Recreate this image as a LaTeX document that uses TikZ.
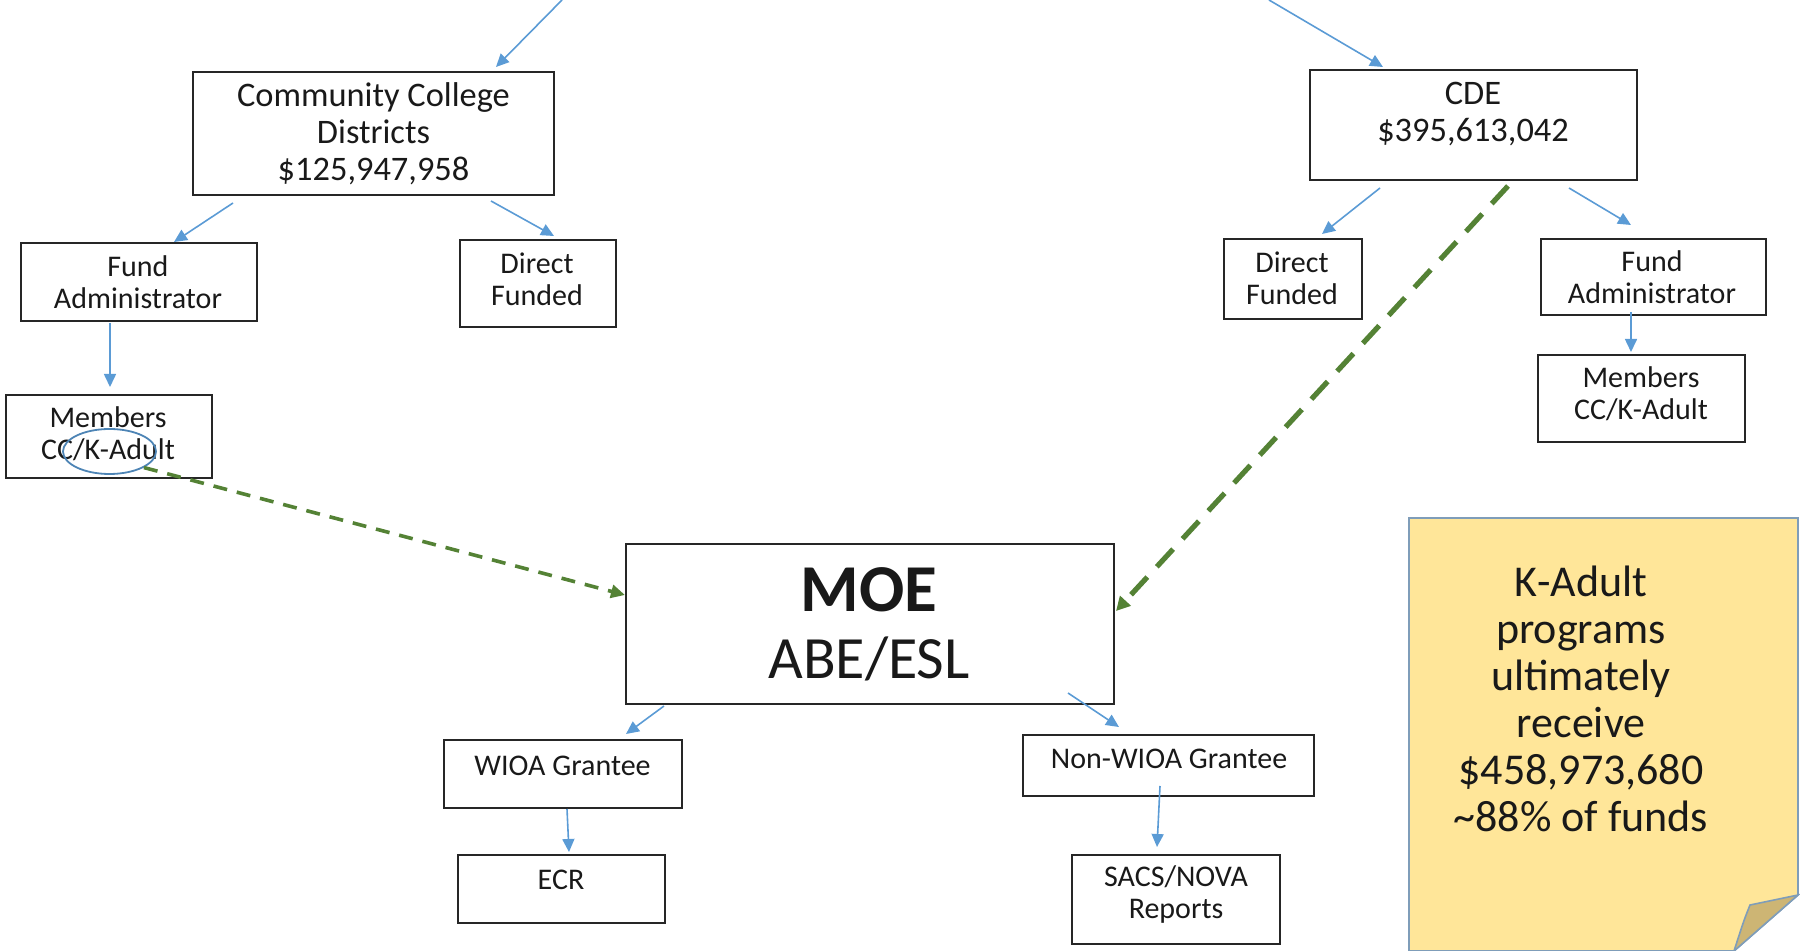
\documentclass[tikz,border=0pt]{standalone}
\usepackage{fontspec}
\setmainfont{Carlito}
\usetikzlibrary{arrows.meta,shapes.geometric}
\definecolor{arrblue}{HTML}{5B9BD5}
\definecolor{dgreen}{HTML}{548235}
\definecolor{notefill}{HTML}{FFE699}
\definecolor{noteedge}{HTML}{7F9DB9}
\definecolor{foldfill}{HTML}{CDB574}
\tikzset{
  box/.style={draw=black!85, line width=1pt, inner sep=0pt, outer sep=0pt},
  txt/.style={align=center, inner sep=0pt, text=black!90},
  small/.style={font=\fontsize{15}{16}\selectfont},
  mid/.style={font=\fontsize{17.2}{18.5}\selectfont},
  arr/.style={draw=arrblue, line width=0.8pt, -{Triangle[length=6.5pt,width=6pt]}},
  garrthick/.style={draw=dgreen, line width=2.6pt, dash pattern=on 12pt off 7pt, -{Triangle[length=7pt,width=7pt]}},
  garrthin/.style={draw=dgreen, line width=1.8pt, dash pattern=on 7pt off 5pt, -{Triangle[length=7pt,width=6.5pt]}}
}
\begin{document}
\begin{tikzpicture}[x=0.5pt,y=-0.5pt]
\useasboundingbox (0,0) rectangle (1800,951);
% boxes
\node[box, minimum width=180.5pt, minimum height=61.5pt] (ccd) at (373.5,133.5) {};
\node[box, minimum width=163.5pt, minimum height=55pt] (cde) at (1473.5,125) {};
\node[box, minimum width=118pt, minimum height=39pt] (faL) at (139,282) {};
\node[box, minimum width=78pt, minimum height=43.5pt] (dfL) at (538,283.5) {};
\node[box, minimum width=103pt, minimum height=41.5pt] (memL) at (109,436.5) {};
\node[box, minimum width=69pt, minimum height=40pt] (dfR) at (1293,279) {};
\node[box, minimum width=112.5pt, minimum height=38pt] (faR) at (1653.5,277) {};
\node[box, minimum width=103.5pt, minimum height=43.5pt] (memR) at (1641.5,398.5) {};
\node[box, minimum width=244pt, minimum height=80pt] (moe) at (870,624) {};
\node[box, minimum width=119pt, minimum height=34pt] (wioa) at (563,774) {};
\node[box, minimum width=103.5pt, minimum height=34pt] (ecr) at (561.5,889) {};
\node[box, minimum width=145.5pt, minimum height=30.5pt] (nwioa) at (1168.5,765.5) {};
\node[box, minimum width=104pt, minimum height=44.5pt] (sacs) at (1176,899.5) {};
% texts
\node[txt, mid] (ccdT) at (373.5,134) {Community College\\Districts\\\$125,947,958};
\node[txt, mid] (cdeT) at (1473,114) {CDE\\\$395,613,042};
\node[txt, small] (faLT) at (138,282) {Fund\\Administrator};
\node[txt, small] (dfLT) at (537,279.5) {Direct\\Funded};
\node[txt, small] (memLT) at (108,434) {Members\\CC/K-Adult};
\node[txt, small] (dfRT) at (1292,278.5) {Direct\\Funded};
\node[txt, small] (faRT) at (1652,277.5) {Fund\\Administrator};
\node[txt, small] (memRT) at (1641,394) {Members\\CC/K-Adult};
\node[txt, font=\fontsize{33.5}{36}\selectfont\bfseries] (moeT) at (869,590) {MOE};
\node[txt, font=\fontsize{30}{34}\selectfont] (abeT) at (869,659) {ABE/ESL};
\node[txt, small] (wioaT) at (562.5,766) {WIOA Grantee};
\node[txt, small] (ecrT) at (561,880) {ECR};
\node[txt, small] (nwioaT) at (1169,759) {Non-WIOA Grantee};
\node[txt, small] (sacsT) at (1176,895) {SACS/NOVA\\Reports};
% sticky note
\filldraw[fill=notefill, draw=noteedge, line width=0.8pt]
  (1409,518) -- (1798,518) -- (1798,895) -- (1734,951) -- (1409,951) -- cycle;
\filldraw[fill=foldfill, draw=noteedge, line width=0.8pt]
  (1798,895) -- (1750,905) .. controls (1744,920) .. (1734,951) -- cycle;
\node[txt, font=\fontsize{22}{23.5}\selectfont] (noteT) at (1581,699)
  {K-Adult\\programs\\ultimately\\receive\\\$458,973,680\\\textasciitilde88\% of funds};
% ellipse highlight
\node[draw=arrblue!85!black, line width=0.9pt, ellipse, minimum width=46.5pt, minimum height=22.5pt, inner sep=0pt] (circ) at (109.5,451.5) {};
% free ends
\coordinate (tl) at (562,0);
\coordinate (tr) at (1269,0);
% blue arrows
\draw[arr] (tl) -- ([shift={(122.5,-5)}]ccd.north);
\draw[arr] (tr) -- ([shift={(-90.5,-3)}]cde.north);
\draw[arr] ([shift={(-140.5,8)}]ccd.south) -- ([shift={(35,-1)}]faL.north);
\draw[arr] ([shift={(117.5,6)}]ccd.south) -- ([shift={(16,-4)}]dfL.north);
\draw[arr] ([shift={(-29,2)}]faL.south) -- ([shift={(1,-8)}]memL.north);
\draw[arr] ([shift={(-93.5,8)}]cde.south) -- ([shift={(29,-5)}]dfR.north);
\draw[arr] ([shift={(95.5,8)}]cde.south) -- ([shift={(-22.5,-14)}]faR.north);
\draw[arr] ([shift={(-22.5,-3)}]faR.south) -- ([shift={(-10.5,-3)}]memR.north);
\draw[arr] ([shift={(38,2)}]moe.south west) -- ([shift={(63,-6)}]wioa.north);
\draw[arr] ([shift={(4,1)}]wioa.south) -- ([shift={(7.5,-3)}]ecr.north);
\draw[arr] ([shift={(-46,-11)}]moe.south east) -- ([shift={(-49.5,-8)}]nwioa.north);
\draw[arr] ([shift={(-8.5,-10)}]nwioa.south) -- ([shift={(-19,-8)}]sacs.north);
% green dashed arrows
\draw[garrthick] ([shift={(34.5,6)}]cde.south) -- ([shift={(2,-13)}]moe.east);
\draw[garrthin] (circ.-25) -- ([shift={(-1,-29)}]moe.west);
\end{tikzpicture}
\end{document}
